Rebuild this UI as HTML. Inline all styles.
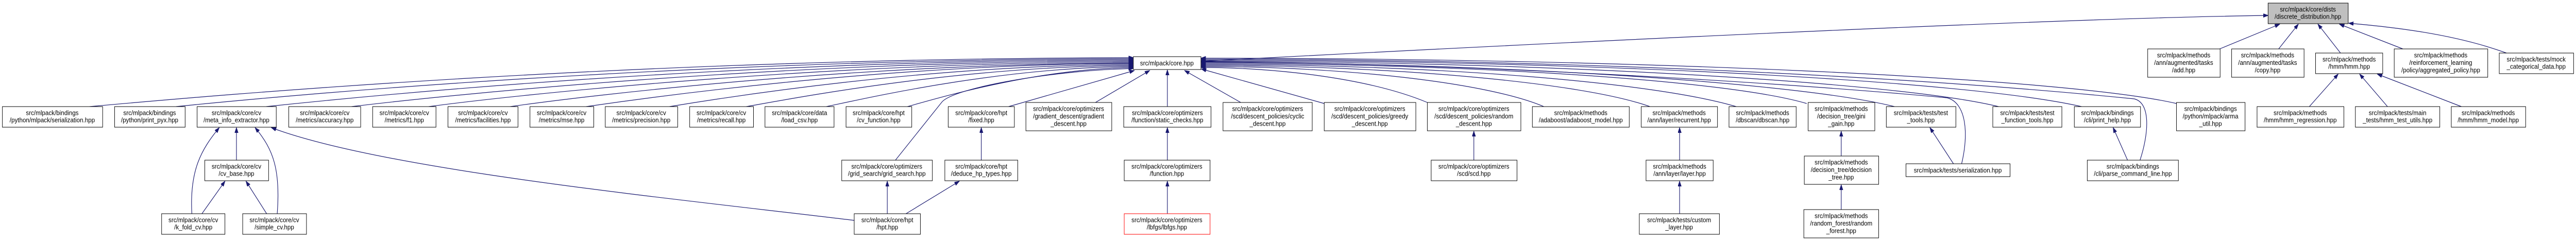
<!DOCTYPE html>
<html><head><meta charset="utf-8"><style>
html,body{margin:0;padding:0;background:#fff;overflow:hidden;width:100%;height:100%;}
svg{display:block;width:100vw;height:100vh;}
text{font-family:"Liberation Sans",Arial,sans-serif;font-size:12.5px;fill:#000;text-anchor:middle;}
rect{fill:#fff;stroke:#000;stroke-width:1;}
path.e{fill:none;stroke:#191970;stroke-width:1.2;marker-end:url(#a);}
</style></head><body>
<svg viewBox="0 0 5371 468" preserveAspectRatio="none" xmlns="http://www.w3.org/2000/svg">
<defs><marker id="a" markerUnits="userSpaceOnUse" markerWidth="11" markerHeight="8" refX="10" refY="3.5" orient="auto"><path d="M0,0 L10,3.5 L0,7 z" fill="#191970" stroke="#191970"/></marker></defs>

<path class="e" d="M187,207 C450,185 1300,114 2363,112"/>
<path class="e" d="M367,207 C600,185 1400,116 2363,114"/>
<path class="e" d="M555,207 C780,185 1500,118 2363,116"/>
<path class="e" d="M733,207 C930,185 1600,120 2363,118"/>
<path class="e" d="M894,207 C1070,185 1700,122 2363,120"/>
<path class="e" d="M1064,207 C1230,185 1780,124 2363,122"/>
<path class="e" d="M1222,207 C1370,187 1850,125 2363,123"/>
<path class="e" d="M1396,207 C1520,188 1930,127 2363,125"/>
<path class="e" d="M1556,207 C1660,190 2000,129 2363,127"/>
<path class="e" d="M1723,207 C1800,192 2080,131 2363,129"/>
<path class="e" d="M1892,207 C1950,192 2160,133 2363,131"/>
<path class="e" d="M1867,311 L1964,198 C1990,170 2200,136 2363,133"/>
<path class="e" d="M2103,207 L2365,137"/>
<path class="e" d="M2284,199 L2397,137"/>
<path class="e" d="M2434,207 L2434,136"/>
<path class="e" d="M2587,199 L2470,137"/>
<path class="e" d="M2761,201 L2505,134"/>
<path class="e" d="M2976,199 C2850,150 2650,131 2504,131"/>
<path class="e" d="M3219,207 C3100,160 2800,129 2504,129"/>
<path class="e" d="M3440,207 C3300,160 2900,127 2504,127"/>
<path class="e" d="M3620,207 C3450,160 3000,125 2504,125"/>
<path class="e" d="M3767,201 C3600,155 3050,123 2504,123"/>
<path class="e" d="M3950,207 C3750,160 3100,121 2504,121"/>
<path class="e" d="M4090,318 C4105,260 4100,200 4060,190 C3600,150 2900,120 2504,120"/>
<path class="e" d="M4167,207 C3950,158 3200,119 2504,119"/>
<path class="e" d="M4340,207 C4100,156 3300,117 2504,117"/>
<path class="e" d="M4462,311 C4480,260 4485,200 4450,192 C4000,150 3300,115 2504,115"/>
<path class="e" d="M4538,201 C4300,150 3400,113 2504,113"/>
<path class="e" d="M2504,119 C3300,80 4300,35 4729,30"/>
<path class="e" d="M4628,95 L4753,47"/>
<path class="e" d="M4751,95 L4792,47"/>
<path class="e" d="M4880,103 L4833,47"/>
<path class="e" d="M5010,95 L4878,47"/>
<path class="e" d="M5226,103 C5100,60 4950,50 4897,45"/>
<path class="e" d="M4815,207 L4875,144"/>
<path class="e" d="M4978,207 L4920,144"/>
<path class="e" d="M5132,207 L4957,144"/>
<path class="e" d="M493,311 L493,248"/>
<path class="e" d="M400,415 C395,330 420,290 457,248"/>
<path class="e" d="M421,415 L469,352"/>
<path class="e" d="M556,415 L513,352"/>
<path class="e" d="M578,415 C585,330 570,290 532,248"/>
<path class="e" d="M1781,428 C1400,385 800,330 566,248"/>
<path class="e" d="M1850,415 L1850,352"/>
<path class="e" d="M1889,415 L2000,352"/>
<path class="e" d="M2046,311 L2046,248"/>
<path class="e" d="M2434,311 L2434,248"/>
<path class="e" d="M2434,415 L2434,352"/>
<path class="e" d="M3073,311 L3073,255"/>
<path class="e" d="M3502,311 L3502,248"/>
<path class="e" d="M3502,415 L3502,352"/>
<path class="e" d="M3839,303 L3839,255"/>
<path class="e" d="M3839,407 L3839,359"/>
<path class="e" d="M4073,318 L4024,248"/>
<path class="e" d="M4436,311 L4406,248"/>

<g>
<rect x="4729" y="6" width="167" height="40" style="fill:#bfbfbf"/><text x="4812" y="22.5">src/mlpack/core/dists</text><text x="4812" y="36.5">/discrete_distribution.hpp</text>
<rect x="2363" y="110" width="141" height="25"/><text x="2433" y="127">src/mlpack/core.hpp</text>
<rect x="4478" y="95" width="151" height="55"/><text x="4553" y="111.5">src/mlpack/methods</text><text x="4553" y="126">/ann/augmented/tasks</text><text x="4553" y="140.5">/add.hpp</text>
<rect x="4653" y="95" width="151" height="55"/><text x="4728" y="111.5">src/mlpack/methods</text><text x="4728" y="126">/ann/augmented/tasks</text><text x="4728" y="140.5">/copy.hpp</text>
<rect x="4828" y="103" width="140" height="40"/><text x="4898" y="119.5">src/mlpack/methods</text><text x="4898" y="133.5">/hmm/hmm.hpp</text>
<rect x="4992" y="95" width="195" height="55"/><text x="5089" y="111.5">src/mlpack/methods</text><text x="5089" y="126">/reinforcement_learning</text><text x="5089" y="140.5">/policy/aggregated_policy.hpp</text>
<rect x="5211" y="103" width="155" height="40"/><text x="5288" y="119.5">src/mlpack/tests/mock</text><text x="5288" y="133.5">_categorical_data.hpp</text>

<rect x="5" y="207" width="209" height="40"/><text x="109" y="223.5">src/mlpack/bindings</text><text x="109" y="237.5">/python/mlpack/serialization.hpp</text>
<rect x="239" y="207" width="147" height="40"/><text x="312" y="223.5">src/mlpack/bindings</text><text x="312" y="237.5">/python/print_pyx.hpp</text>
<rect x="411" y="207" width="165" height="40"/><text x="493" y="223.5">src/mlpack/core/cv</text><text x="493" y="237.5">/meta_info_extractor.hpp</text>
<rect x="602" y="207" width="150" height="40"/><text x="677" y="223.5">src/mlpack/core/cv</text><text x="677" y="237.5">/metrics/accuracy.hpp</text>
<rect x="777" y="207" width="132" height="40"/><text x="843" y="223.5">src/mlpack/core/cv</text><text x="843" y="237.5">/metrics/f1.hpp</text>
<rect x="934" y="207" width="146" height="40"/><text x="1007" y="223.5">src/mlpack/core/cv</text><text x="1007" y="237.5">/metrics/facilities.hpp</text>
<rect x="1105" y="207" width="133" height="40"/><text x="1171" y="223.5">src/mlpack/core/cv</text><text x="1171" y="237.5">/metrics/mse.hpp</text>
<rect x="1262" y="207" width="151" height="40"/><text x="1337" y="223.5">src/mlpack/core/cv</text><text x="1337" y="237.5">/metrics/precision.hpp</text>
<rect x="1438" y="207" width="133" height="40"/><text x="1504" y="223.5">src/mlpack/core/cv</text><text x="1504" y="237.5">/metrics/recall.hpp</text>
<rect x="1595" y="207" width="144" height="40"/><text x="1667" y="223.5">src/mlpack/core/data</text><text x="1667" y="237.5">/load_csv.hpp</text>
<rect x="1764" y="207" width="137" height="40"/><text x="1832" y="223.5">src/mlpack/core/hpt</text><text x="1832" y="237.5">/cv_function.hpp</text>
<rect x="1977" y="207" width="138" height="40"/><text x="2046" y="223.5">src/mlpack/core/hpt</text><text x="2046" y="237.5">/fixed.hpp</text>
<rect x="2139" y="199" width="179" height="55"/><text x="2228" y="215.5">src/mlpack/core/optimizers</text><text x="2228" y="230">/gradient_descent/gradient</text><text x="2228" y="244.5">_descent.hpp</text>
<rect x="2343" y="207" width="182" height="40"/><text x="2434" y="223.5">src/mlpack/core/optimizers</text><text x="2434" y="237.5">/function/static_checks.hpp</text>
<rect x="2550" y="199" width="186" height="55"/><text x="2643" y="215.5">src/mlpack/core/optimizers</text><text x="2643" y="230">/scd/descent_policies/cyclic</text><text x="2643" y="244.5">_descent.hpp</text>
<rect x="2761" y="199" width="191" height="55"/><text x="2856" y="215.5">src/mlpack/core/optimizers</text><text x="2856" y="230">/scd/descent_policies/greedy</text><text x="2856" y="244.5">_descent.hpp</text>
<rect x="2976" y="199" width="195" height="55"/><text x="3073" y="215.5">src/mlpack/core/optimizers</text><text x="3073" y="230">/scd/descent_policies/random</text><text x="3073" y="244.5">_descent.hpp</text>
<rect x="3195" y="207" width="202" height="40"/><text x="3296" y="223.5">src/mlpack/methods</text><text x="3296" y="237.5">/adaboost/adaboost_model.hpp</text>
<rect x="3422" y="207" width="159" height="40"/><text x="3501" y="223.5">src/mlpack/methods</text><text x="3501" y="237.5">/ann/layer/recurrent.hpp</text>
<rect x="3605" y="207" width="140" height="40"/><text x="3675" y="223.5">src/mlpack/methods</text><text x="3675" y="237.5">/dbscan/dbscan.hpp</text>
<rect x="3770" y="199" width="139" height="55"/><text x="3839" y="215.5">src/mlpack/methods</text><text x="3839" y="230">/decision_tree/gini</text><text x="3839" y="244.5">_gain.hpp</text>
<rect x="3933" y="207" width="145" height="40"/><text x="4005" y="223.5">src/mlpack/tests/test</text><text x="4005" y="237.5">_tools.hpp</text>
<rect x="4155" y="207" width="144" height="40"/><text x="4227" y="223.5">src/mlpack/tests/test</text><text x="4227" y="237.5">_function_tools.hpp</text>
<rect x="4325" y="207" width="138" height="40"/><text x="4394" y="223.5">src/mlpack/bindings</text><text x="4394" y="237.5">/cli/print_help.hpp</text>
<rect x="4538" y="199" width="143" height="55"/><text x="4609" y="215.5">src/mlpack/bindings</text><text x="4609" y="230">/python/mlpack/arma</text><text x="4609" y="244.5">_util.hpp</text>
<rect x="4706" y="207" width="181" height="40"/><text x="4796" y="223.5">src/mlpack/methods</text><text x="4796" y="237.5">/hmm/hmm_regression.hpp</text>
<rect x="4911" y="207" width="176" height="40"/><text x="4999" y="223.5">src/mlpack/tests/main</text><text x="4999" y="237.5">_tests/hmm_test_utils.hpp</text>
<rect x="5111" y="207" width="155" height="40"/><text x="5188" y="223.5">src/mlpack/methods</text><text x="5188" y="237.5">/hmm/hmm_model.hpp</text>

<rect x="427" y="311" width="133" height="40"/><text x="493" y="327.5">src/mlpack/core/cv</text><text x="493" y="341.5">/cv_base.hpp</text>
<rect x="1755" y="311" width="189" height="40"/><text x="1849" y="327.5">src/mlpack/core/optimizers</text><text x="1849" y="341.5">/grid_search/grid_search.hpp</text>
<rect x="1970" y="311" width="152" height="40"/><text x="2046" y="327.5">src/mlpack/core/hpt</text><text x="2046" y="341.5">/deduce_hp_types.hpp</text>
<rect x="2344" y="311" width="179" height="40"/><text x="2433" y="327.5">src/mlpack/core/optimizers</text><text x="2433" y="341.5">/function.hpp</text>
<rect x="2984" y="311" width="179" height="40"/><text x="3073" y="327.5">src/mlpack/core/optimizers</text><text x="3073" y="341.5">/scd/scd.hpp</text>
<rect x="3432" y="311" width="140" height="40"/><text x="3502" y="327.5">src/mlpack/methods</text><text x="3502" y="341.5">/ann/layer/layer.hpp</text>
<rect x="3762" y="303" width="155" height="55"/><text x="3839" y="319.5">src/mlpack/methods</text><text x="3839" y="334">/decision_tree/decision</text><text x="3839" y="348.5">_tree.hpp</text>
<rect x="3974" y="318" width="217" height="25"/><text x="4082" y="335">src/mlpack/tests/serialization.hpp</text>
<rect x="4352" y="311" width="190" height="40"/><text x="4447" y="327.5">src/mlpack/bindings</text><text x="4447" y="341.5">/cli/parse_command_line.hpp</text>

<rect x="337" y="415" width="132" height="40"/><text x="403" y="431.5">src/mlpack/core/cv</text><text x="403" y="445.5">/k_fold_cv.hpp</text>
<rect x="506" y="415" width="133" height="40"/><text x="572" y="431.5">src/mlpack/core/cv</text><text x="572" y="445.5">/simple_cv.hpp</text>
<rect x="1781" y="415" width="138" height="40"/><text x="1850" y="431.5">src/mlpack/core/hpt</text><text x="1850" y="445.5">/hpt.hpp</text>
<rect x="2344" y="415" width="179" height="40" style="stroke:#ff0000"/><text x="2433" y="431.5">src/mlpack/core/optimizers</text><text x="2433" y="445.5">/lbfgs/lbfgs.hpp</text>
<rect x="3418" y="415" width="167" height="40"/><text x="3501" y="431.5">src/mlpack/tests/custom</text><text x="3501" y="445.5">_layer.hpp</text>
<rect x="3761" y="407" width="156" height="55"/><text x="3839" y="423.5">src/mlpack/methods</text><text x="3839" y="438">/random_forest/random</text><text x="3839" y="452.5">_forest.hpp</text>
</g>
</svg>
</body></html>
